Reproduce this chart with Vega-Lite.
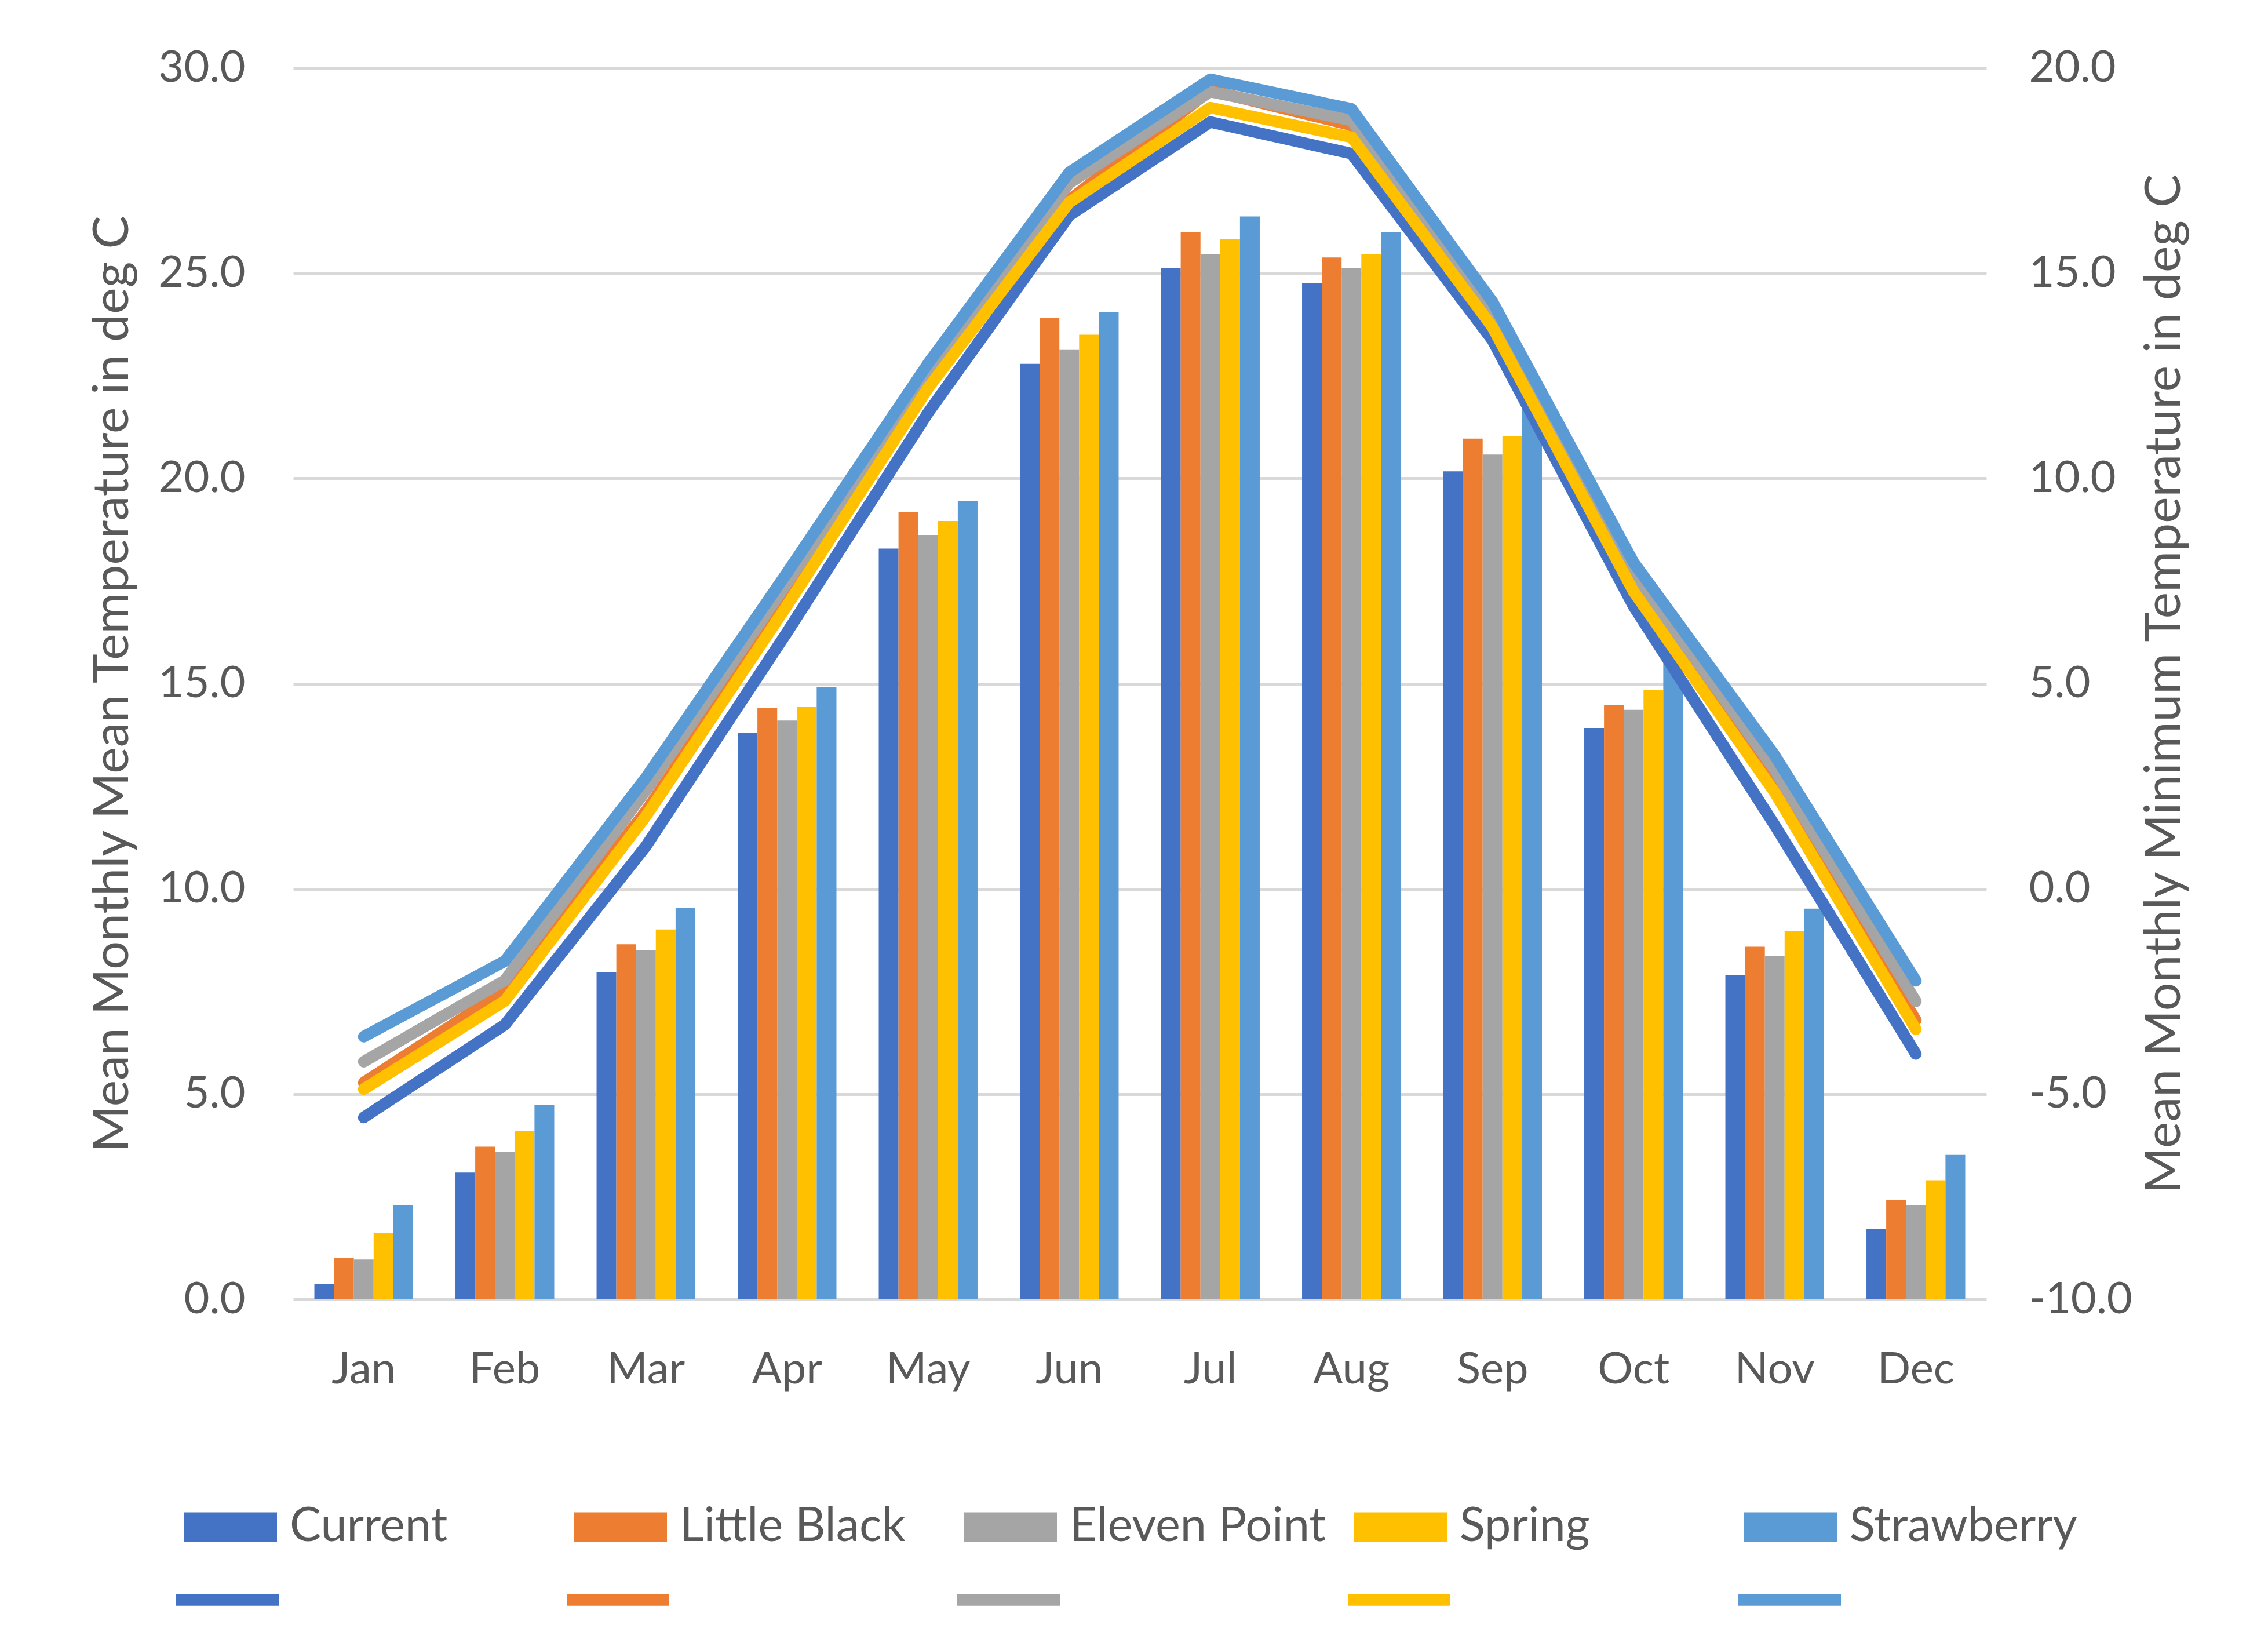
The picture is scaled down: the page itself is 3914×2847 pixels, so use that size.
{
  "$schema": "https://vega.github.io/schema/vega-lite/v6.json",
  "width": 2922,
  "height": 2125,
  "autosize": {"type": "none"},
  "padding": {"left": 506, "top": 117, "right": 486, "bottom": 605},
  "background": "white",
  "data": {
    "values": [
      {"month": "Jan", "series": "Current", "mean": 0.38, "min": -5.57},
      {"month": "Jan", "series": "Little Black", "mean": 1.01, "min": -4.72},
      {"month": "Jan", "series": "Eleven Point", "mean": 0.97, "min": -4.21},
      {"month": "Jan", "series": "Spring", "mean": 1.61, "min": -4.88},
      {"month": "Jan", "series": "Strawberry", "mean": 2.29, "min": -3.6},
      {"month": "Feb", "series": "Current", "mean": 3.09, "min": -3.31},
      {"month": "Feb", "series": "Little Black", "mean": 3.72, "min": -2.48},
      {"month": "Feb", "series": "Eleven Point", "mean": 3.6, "min": -2.23},
      {"month": "Feb", "series": "Spring", "mean": 4.11, "min": -2.73},
      {"month": "Feb", "series": "Strawberry", "mean": 4.73, "min": -1.76},
      {"month": "Mar", "series": "Current", "mean": 7.97, "min": 1.04},
      {"month": "Mar", "series": "Little Black", "mean": 8.65, "min": 1.89},
      {"month": "Mar", "series": "Eleven Point", "mean": 8.51, "min": 2.4},
      {"month": "Mar", "series": "Spring", "mean": 9.01, "min": 1.77},
      {"month": "Mar", "series": "Strawberry", "mean": 9.53, "min": 2.71},
      {"month": "Apr", "series": "Current", "mean": 13.8, "min": 6.25},
      {"month": "Apr", "series": "Little Black", "mean": 14.41, "min": 7.0},
      {"month": "Apr", "series": "Eleven Point", "mean": 14.1, "min": 7.45},
      {"month": "Apr", "series": "Spring", "mean": 14.43, "min": 6.9},
      {"month": "Apr", "series": "Strawberry", "mean": 14.92, "min": 7.7},
      {"month": "May", "series": "Current", "mean": 18.29, "min": 11.6},
      {"month": "May", "series": "Little Black", "mean": 19.18, "min": 12.3},
      {"month": "May", "series": "Eleven Point", "mean": 18.62, "min": 12.55},
      {"month": "May", "series": "Spring", "mean": 18.96, "min": 12.2},
      {"month": "May", "series": "Strawberry", "mean": 19.45, "min": 12.8},
      {"month": "Jun", "series": "Current", "mean": 22.79, "min": 16.4},
      {"month": "Jun", "series": "Little Black", "mean": 23.91, "min": 16.78},
      {"month": "Jun", "series": "Eleven Point", "mean": 23.13, "min": 17.19},
      {"month": "Jun", "series": "Spring", "mean": 23.5, "min": 16.72},
      {"month": "Jun", "series": "Strawberry", "mean": 24.05, "min": 17.45},
      {"month": "Jul", "series": "Current", "mean": 25.13, "min": 18.68},
      {"month": "Jul", "series": "Little Black", "mean": 25.99, "min": 19.45},
      {"month": "Jul", "series": "Eleven Point", "mean": 25.47, "min": 19.42},
      {"month": "Jul", "series": "Spring", "mean": 25.82, "min": 19.03},
      {"month": "Jul", "series": "Strawberry", "mean": 26.38, "min": 19.72},
      {"month": "Aug", "series": "Current", "mean": 24.76, "min": 17.91},
      {"month": "Aug", "series": "Little Black", "mean": 25.38, "min": 18.6},
      {"month": "Aug", "series": "Eleven Point", "mean": 25.12, "min": 18.72},
      {"month": "Aug", "series": "Spring", "mean": 25.46, "min": 18.31},
      {"month": "Aug", "series": "Strawberry", "mean": 25.99, "min": 19.0},
      {"month": "Sep", "series": "Current", "mean": 20.17, "min": 13.36},
      {"month": "Sep", "series": "Little Black", "mean": 20.97, "min": 13.75},
      {"month": "Sep", "series": "Eleven Point", "mean": 20.58, "min": 13.96},
      {"month": "Sep", "series": "Spring", "mean": 21.02, "min": 13.68},
      {"month": "Sep", "series": "Strawberry", "mean": 21.8, "min": 14.3},
      {"month": "Oct", "series": "Current", "mean": 13.92, "min": 6.88},
      {"month": "Oct", "series": "Little Black", "mean": 14.47, "min": 7.42},
      {"month": "Oct", "series": "Eleven Point", "mean": 14.36, "min": 7.7},
      {"month": "Oct", "series": "Spring", "mean": 14.84, "min": 7.24},
      {"month": "Oct", "series": "Strawberry", "mean": 15.5, "min": 7.95},
      {"month": "Nov", "series": "Current", "mean": 7.9, "min": 1.55},
      {"month": "Nov", "series": "Little Black", "mean": 8.59, "min": 2.55},
      {"month": "Nov", "series": "Eleven Point", "mean": 8.36, "min": 2.9},
      {"month": "Nov", "series": "Spring", "mean": 8.98, "min": 2.35},
      {"month": "Nov", "series": "Strawberry", "mean": 9.52, "min": 3.25},
      {"month": "Dec", "series": "Current", "mean": 1.72, "min": -4.02},
      {"month": "Dec", "series": "Little Black", "mean": 2.43, "min": -3.2},
      {"month": "Dec", "series": "Eleven Point", "mean": 2.3, "min": -2.74},
      {"month": "Dec", "series": "Spring", "mean": 2.9, "min": -3.42},
      {"month": "Dec", "series": "Strawberry", "mean": 3.52, "min": -2.24}
    ]
  },
  "layer": [
    {
      "mark": {"type": "bar"},
      "encoding": {
        "x": {
          "field": "month", "type": "nominal", "sort": null,
          "scale": {"paddingInner": 0.3, "paddingOuter": 0.15},
          "axis": {"title": null, "labelAngle": 0, "labelPadding": 84, "grid": false}
        },
        "xOffset": {
          "field": "series", "type": "nominal",
          "scale": {"domain": ["Current", "Little Black", "Eleven Point", "Spring", "Strawberry"], "paddingInner": 0, "paddingOuter": 0}
        },
        "y": {
          "field": "mean", "type": "quantitative",
          "scale": {"domain": [0, 30], "nice": false, "zero": false},
          "axis": {
            "title": "Mean Monthly Mean Temperature in deg C",
            "values": [0, 5, 10, 15, 20, 25, 30], "format": ".1f",
            "grid": true, "labelPadding": 83, "titlePadding": 68
          }
        },
        "fill": {
          "field": "series", "type": "nominal",
          "scale": {
            "domain": ["Current", "Little Black", "Eleven Point", "Spring", "Strawberry"],
            "range": ["#4472C4", "#ED7D31", "#A5A5A5", "#FFC000", "#5B9BD5"]
          },
          "legend": {
            "title": null, "orient": "none", "legendX": -188, "legendY": 2438,
            "direction": "horizontal", "columns": 5, "gridAlign": "all", "columnPadding": 48,
            "symbolType": "M-1,-0.32H1V0.32H-1Z", "symbolSize": 25600, "symbolStrokeWidth": 0,
            "labelOffset": 22, "labelLimit": 1000
          }
        }
      }
    },
    {
      "mark": {"type": "line", "strokeWidth": 20, "strokeCap": "round", "strokeJoin": "round"},
      "encoding": {
        "x": {"field": "month", "type": "nominal", "sort": null},
        "y": {
          "field": "min", "type": "quantitative",
          "scale": {"domain": [-10, 20], "nice": false, "zero": false},
          "axis": {
            "orient": "right",
            "title": "Mean Monthly Minimum Temperature in deg C",
            "values": [-10, -5, 0, 5, 10, 15, 20],
            "labelExpr": "replace(format(datum.value, '.1f'), '\u2212', '-')",
            "labelLimit": 1000,
            "grid": false, "labelPadding": 73, "titlePadding": 65,
            "titleAngle": 270, "titleBaseline": "top"
          }
        },
        "stroke": {
          "field": "series", "type": "nominal",
          "sort": ["Current", "Little Black", "Eleven Point", "Spring", "Strawberry"],
          "scale": {"range": ["#4472C4", "#ED7D31", "#A5A5A5", "#FFC000", "#5B9BD5"]},
          "legend": {
            "title": null, "orient": "none", "legendX": -212, "legendY": 2545,
            "direction": "horizontal", "columns": 5, "gridAlign": "all", "columnPadding": 417,
            "symbolType": "stroke", "symbolSize": 31329, "symbolStrokeWidth": 20,
            "labelExpr": "''", "labelOffset": 0
          }
        }
      }
    }
  ],
  "resolve": {"scale": {"y": "independent"}},
  "config": {
    "font": "Lato",
    "view": {"stroke": null},
    "axis": {
      "domain": false, "ticks": false,
      "labelColor": "#595959", "titleColor": "#595959",
      "labelFont": "Lato", "titleFont": "Lato",
      "labelFontSize": 76, "titleFontSize": 86, "titleFontWeight": "normal",
      "gridColor": "#d9d9d9", "gridWidth": 5
    },
    "legend": {
      "labelFont": "Lato", "labelFontSize": 81, "labelColor": "#595959",
      "padding": 0, "titlePadding": 0
    }
  }
}
